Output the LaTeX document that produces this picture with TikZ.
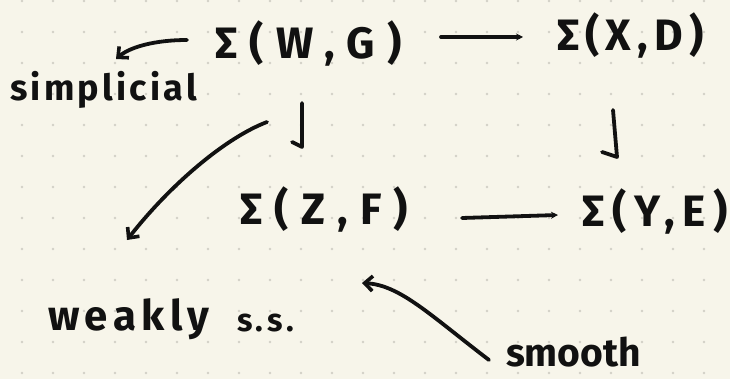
\documentclass[tikz,border=0pt]{standalone}
\usepackage{fontspec}
\setmainfont{Fira Sans}
\usetikzlibrary{arrows.meta}
\definecolor{paper}{HTML}{F7F5EA}
\definecolor{dotc}{HTML}{D2D0C6}
\definecolor{ink}{HTML}{111111}
\tikzset{
  lbl/.style={anchor=base west, inner sep=0pt, outer sep=0pt, text=ink},
  big/.style={font=\bfseries\fontsize{44}{50}\selectfont},
  conn/.style={draw=ink, line width=3.8pt, line cap=round, line join=round},
  headtip/.style={-{Straight Barb[length=8pt,width=15pt,line width=3.6pt]}},
  smalltip/.style={-{Stealth[length=7pt,width=7pt]}}
}
\begin{document}
\begin{tikzpicture}[x=1pt,y=-1pt]
\fill[paper] (0,0) rectangle (730,379);
\useasboundingbox (0,0) rectangle (730,379);
\foreach \i in {0,...,22}{\foreach \j in {0,...,12}{\fill[dotc] (22+31*\i,1+31*\j) circle (1.4pt);}}
% labels
\node[lbl,big] (wg) at (215,59) {\addfontfeature{LetterSpace=28}Σ(W,G)};
\node[lbl,big] (xd) at (557,51) {\addfontfeature{LetterSpace=14}Σ(X,D)};
\node[lbl,big] (zf) at (240,225) {\addfontfeature{LetterSpace=28}Σ(Z,F)};
\node[lbl,big] (ye) at (582,226) {\addfontfeature{LetterSpace=18}Σ(Y,E)};
\node[lbl,font=\bfseries\fontsize{36}{40}\selectfont] (simp) at (10,101) {\addfontfeature{LetterSpace=9}simplicial};
\node[lbl,font=\bfseries\fontsize{42}{46}\selectfont] (weak) at (48,330) {\addfontfeature{LetterSpace=13}weakly};
\node[lbl,font=\bfseries\fontsize{32}{36}\selectfont] (ss) at (237,331) {\addfontfeature{LetterSpace=11}s.s.};
\node[lbl,font=\bfseries\fontsize{39}{42}\selectfont] (smooth) at (506,366) {smooth};
% connectors
\draw[conn,smalltip] ([shift={(226,-22)}]wg.base west) -- ([shift={(-34,-14)}]xd.base west);
\draw[conn,smalltip] ([shift={(222,-7)}]zf.base west) -- ([shift={(-24,-11)}]ye.base west);
\draw[conn] ([shift={(87,44)}]wg.base west) -- ([shift={(62,-78)}]zf.base west) -- ++(-10,-5);
\draw[conn] ([shift={(56,59)}]xd.base west) -- ([shift={(35,-69)}]ye.base west) -- ++(-15,-5);
\draw[conn,headtip] ([shift={(-28,-19)}]wg.base west) .. controls (155,40) and (130,47) .. ([shift={(106,-42)}]simp.base west);
\draw[conn,headtip] ([shift={(52,63)}]wg.base west) .. controls (225,138) and (170,185) .. ([shift={(79,-90)}]weak.base west);
\draw[conn,headtip] ([shift={(-17,-6)}]smooth.base west) .. controls (430,315) and (400,285) .. ([shift={(122,58)}]zf.base west);
\end{tikzpicture}
\end{document}
